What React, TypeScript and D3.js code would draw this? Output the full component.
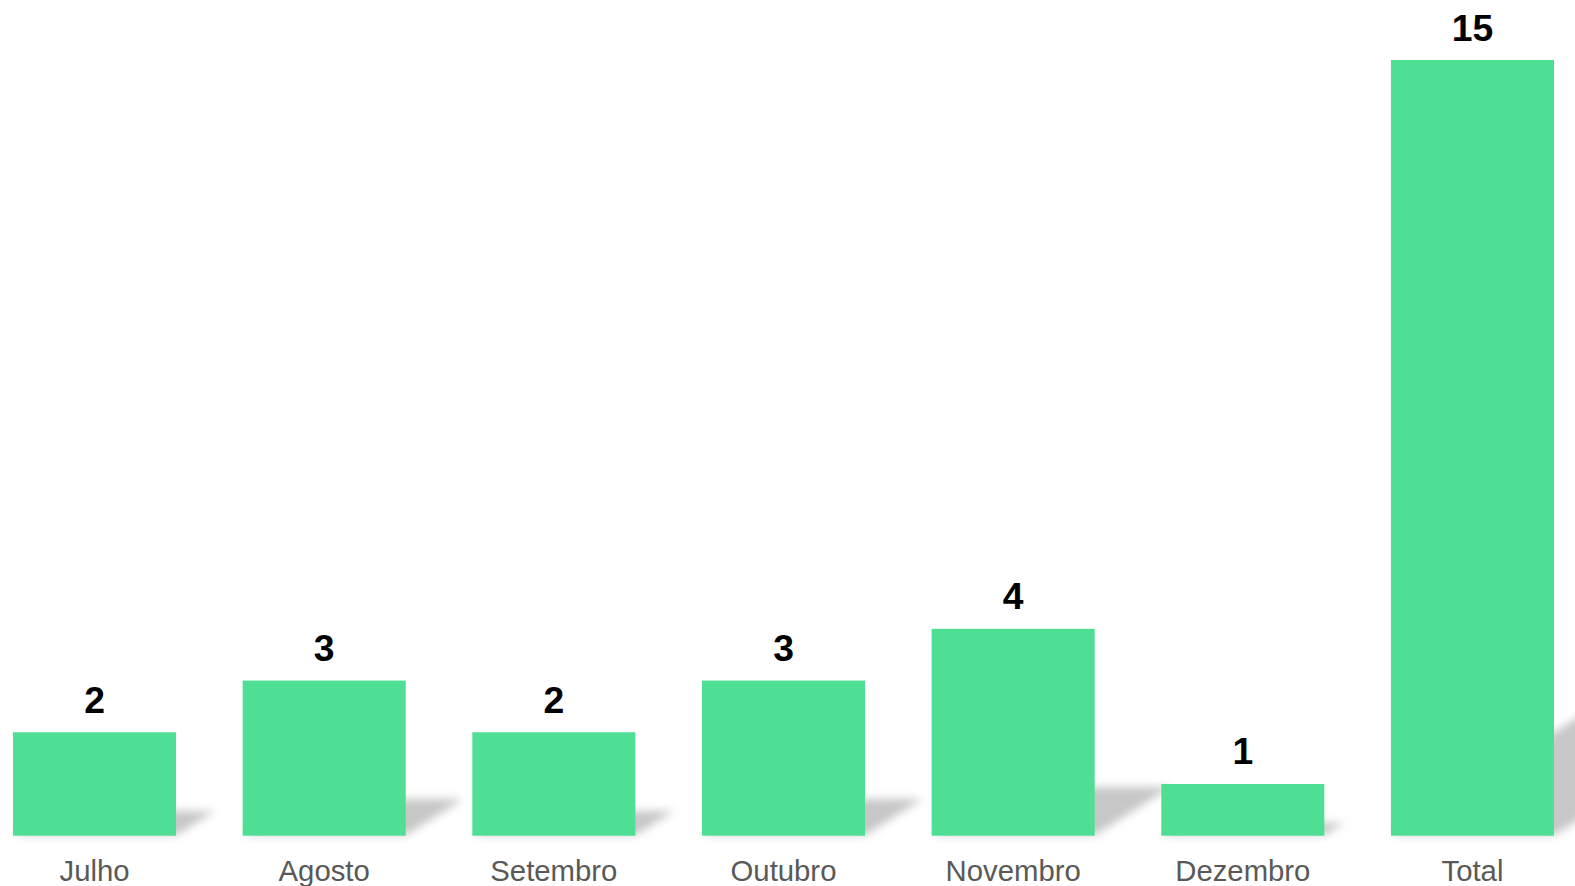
import React from "react";
import * as d3 from "d3";

const categories: string[] = ["Julho", "Agosto", "Setembro", "Outubro", "Novembro", "Dezembro", "Total"];
const values: number[] = [2, 3, 2, 3, 4, 1, 15];

const W = 1575;
const H = 886;
const BASE = 835.7;
const TOP = 60;
const BAR_COLOR = "#4edf95";

export default function App() {
  const x = d3.scaleBand<string>().domain(categories).range([13, 1554]).paddingInner(0.29).paddingOuter(0);
  const y = d3.scaleLinear().domain([0, d3.max(values) as number]).range([BASE, TOP]);

  const shadowPath = (c: string, v: number) => {
    const x0 = x(c) as number;
    const x1 = x0 + x.bandwidth();
    const h = BASE - y(v);
    const sh = 0.23 * h;
    const kx = 0.364 * h;
    const p = d3.path();
    p.moveTo(x0 + 1, BASE - 1);
    p.lineTo(x1 + 1, BASE - 1);
    p.lineTo(x1 + kx + 1, BASE - sh - 1);
    p.lineTo(x0 + kx + 1, BASE - sh - 1);
    p.closePath();
    return p.toString();
  };

  return (
    <svg
      width={W}
      height={H}
      viewBox={`0 0 ${W} ${H}`}
      style={{ position: "absolute", left: 0, top: 0, background: "#ffffff" }}
      fontFamily="'Liberation Sans', Arial, sans-serif"
    >
      <defs>
        <filter id="shblur" filterUnits="userSpaceOnUse" x={0} y={0} width={W} height={H}>
          <feGaussianBlur stdDeviation={4.5} />
        </filter>
      </defs>
      <rect x={0} y={0} width={W} height={H} fill="#ffffff" />
      <g filter="url(#shblur)" fill="#000" fillOpacity={0.22}>
        {categories.map((c, i) => (
          <path key={c} d={shadowPath(c, values[i])} />
        ))}
      </g>
      <g>
        {categories.map((c, i) => (
          <rect
            key={c}
            x={x(c)}
            y={y(values[i])}
            width={x.bandwidth()}
            height={BASE - y(values[i])}
            fill={BAR_COLOR}
          />
        ))}
      </g>
      <g>
        {categories.map((c, i) => (
          <text
            key={c}
            x={(x(c) as number) + x.bandwidth() / 2}
            y={y(values[i]) - 19.5}
            textAnchor="middle"
            fontSize={37.3}
            fontWeight="bold"
            fill="#000000"
          >
            {values[i]}
          </text>
        ))}
      </g>
      <g>
        {categories.map((c) => (
          <text
            key={c}
            x={(x(c) as number) + x.bandwidth() / 2}
            y={881}
            textAnchor="middle"
            fontSize={29.3}
            fill="#595959"
          >
            {c}
          </text>
        ))}
      </g>
    </svg>
  );
}
